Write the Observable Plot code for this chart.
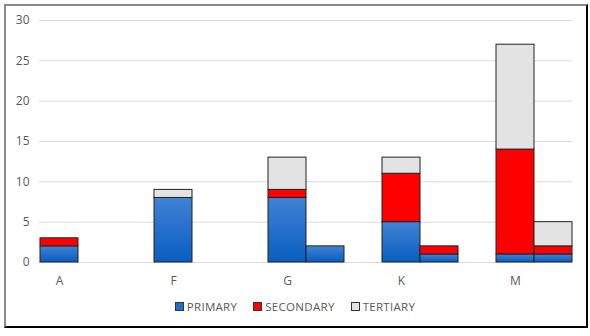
<!DOCTYPE html>
<html>
<head>
<meta charset="utf-8">
<script src="https://cdn.jsdelivr.net/npm/d3@7"></script>
<script src="https://cdn.jsdelivr.net/npm/@observablehq/plot@0.6"></script>
<style>
  html, body { margin: 0; padding: 0; background: #fff; }
  body { width: 590px; height: 336px; position: relative; overflow: hidden; font-family: "Open Sans", sans-serif; }
  #frame { position: absolute; left: 4px; top: 4px; width: 580px; height: 320px;
           border-top: 2px solid #8a8a8a; border-left: 2px solid #8a8a8a;
           border-right: 2px solid #000; border-bottom: 2px solid #000; box-sizing: content-box; }
  #chart { position: absolute; left: 0; top: 0; }
  #legend { position: absolute; left: 0; width: 590px; top: 299px; display: flex; justify-content: center;
            gap: 16px; font-size: 11.5px; color: #595959; letter-spacing: 0.3px; }
  .item { display: flex; align-items: center; gap: 3px; }
  .sw { width: 7px; height: 7px; border: 1px solid #333; display: inline-block; }
</style>
</head>
<body>
<div id="frame"></div>
<div id="chart"></div>
<div id="legend"></div>
<script>
const categories = ["A", "F", "G", "K", "M"];
const series = ["PRIMARY", "SECONDARY", "TERTIARY"];
// left bar of each category
const primaryLeft   = [2, 8, 8, 5, 1];
const secondaryLeft = [1, 0, 1, 6, 13];
const tertiaryLeft  = [0, 1, 4, 2, 13];
// right bar of each category
const primaryRight   = [0, 0, 2, 1, 1];
const secondaryRight = [0, 0, 0, 1, 1];
const tertiaryRight  = [0, 0, 0, 0, 3];
const yTicks = [0, 5, 10, 15, 20, 25, 30];

const fills = {PRIMARY: "url(#primaryGrad)", SECONDARY: "#ff0000", TERTIARY: "#e3e3e3"};
const swatch = {PRIMARY: "#1f6fca", SECONDARY: "#ff0000", TERTIARY: "#e3e3e3"};

// slot domain: left, right, gap for each category
const slots = [];
categories.forEach((c, i) => {
  slots.push(c + "|L", c + "|R");
  if (i < categories.length - 1) slots.push(c + "|gap");
});

const rows = [];
categories.forEach((c, i) => {
  const L = [primaryLeft[i], secondaryLeft[i], tertiaryLeft[i]];
  const R = [primaryRight[i], secondaryRight[i], tertiaryRight[i]];
  series.forEach((s, j) => {
    if (L[j] > 0) rows.push({slot: c + "|L", series: s, value: L[j]});
  });
  series.forEach((s, j) => {
    if (R[j] > 0) rows.push({slot: c + "|R", series: s, value: R[j]});
  });
});

const plot = Plot.plot({
  width: 590,
  height: 300,
  marginLeft: 39,
  marginRight: 18,
  marginTop: 20,
  marginBottom: 38,
  style: {fontFamily: "Open Sans, sans-serif", fontSize: "12px", color: "#595959", background: "transparent"},
  x: {type: "band", domain: slots, padding: 0, label: null},
  y: {domain: [0, 30], label: null},
  color: {type: "identity"},
  marks: [
    Plot.ruleY(yTicks, {stroke: "#d9d9d9", strokeWidth: 1}),
    Plot.axisY({ticks: yTicks, tickSize: 0, tickPadding: 10, label: null, fill: "#595959"}),
    Plot.axisX({ticks: categories.map(c => c + "|L"), tickFormat: d => d.split("|")[0], tickSize: 0, tickPadding: 14, label: null, fill: "#595959"}),
    Plot.barY(rows, Plot.stackY({x: "slot", y: "value", fill: d => fills[d.series], stroke: "#222", strokeWidth: 1, inset: 0}))
  ]
});

const svg = d3.select(plot);
const defs = svg.insert("defs", ":first-child");
const g = defs.append("linearGradient").attr("id", "primaryGrad").attr("x1", 0).attr("y1", 0).attr("x2", 0).attr("y2", 1);
g.append("stop").attr("offset", "0%").attr("stop-color", "#4182d5");
g.append("stop").attr("offset", "100%").attr("stop-color", "#075ebf");

document.getElementById("chart").appendChild(plot);

const legend = d3.select("#legend");
series.forEach(s => {
  const it = legend.append("div").attr("class", "item");
  it.append("span").attr("class", "sw").style("background", swatch[s]);
  it.append("span").text(s);
});
</script>
</body>
</html>
